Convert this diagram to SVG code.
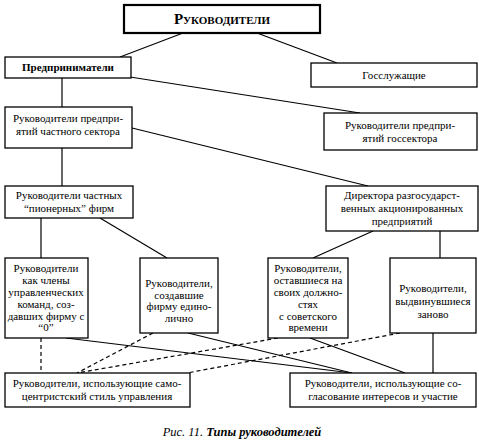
<svg xmlns="http://www.w3.org/2000/svg" width="479" height="442" viewBox="0 0 479 442">
<style>
.box{fill:#fff;stroke:#000;stroke-width:1.3}
.t{font-family:"Liberation Serif","Times New Roman",serif;font-size:11px;fill:#000;text-anchor:middle}
.b{font-weight:bold}
.ln{stroke:#000;stroke-width:1.2;fill:none}
.ds{stroke:#000;stroke-width:1.2;fill:none;stroke-dasharray:4,3}
</style>
<rect width="479" height="442" fill="#fff"/>
<g id="connectors">
<line class="ln" x1="183" y1="33" x2="120" y2="57"/>
<line class="ln" x1="257" y1="33" x2="337" y2="63"/>
<line class="ln" x1="62" y1="78" x2="62" y2="107"/>
<line class="ln" x1="130" y1="77" x2="360" y2="113"/>
<line class="ln" x1="132" y1="128" x2="368" y2="186"/>
<line class="ln" x1="62" y1="148" x2="62" y2="186"/>
<line class="ln" x1="41" y1="218" x2="41" y2="258"/>
<line class="ln" x1="100" y1="218" x2="167" y2="258"/>
<line class="ln" x1="373" y1="231" x2="313" y2="258"/>
<line class="ln" x1="440" y1="231" x2="440" y2="258"/>
<line class="ds" x1="41" y1="338" x2="41" y2="373"/>
<line class="ds" x1="153" y1="333" x2="77" y2="373"/>
<line class="ds" x1="278" y1="338" x2="77" y2="373"/>
<line class="ds" x1="400" y1="333" x2="187" y2="373"/>
<line class="ln" x1="66" y1="338" x2="352" y2="373"/>
<line class="ln" x1="188" y1="333" x2="352" y2="373"/>
<line class="ln" x1="310" y1="338" x2="405" y2="373"/>
<line class="ln" x1="433" y1="333" x2="433" y2="373"/>
</g>
<g id="n-top"><rect x="124" y="5" width="196" height="28" fill="#fff" stroke="#000" stroke-width="2.2"/><text class="t b" x="222" y="24" style="font-variant:small-caps;font-size:15px">Руководители</text></g>
<g id="n-entre"><rect class="box" x="5" y="57" width="126" height="21"/><text class="t b" x="68" y="71">Предприниматели</text></g>
<g id="n-gos"><rect class="box" x="311" y="63" width="166" height="24"/><text class="t" x="394" y="79">Госслужащие</text></g>
<g id="n-private"><rect class="box" x="5" y="107" width="127" height="41"/><text class="t" x="68" y="122">Руководители предпри-</text><text class="t" x="68" y="135">ятий частного сектора</text></g>
<g id="n-state"><rect class="box" x="324" y="113" width="153" height="37"/><text class="t" x="400" y="129">Руководители предпри-</text><text class="t" x="400" y="142">ятий госсектора</text></g>
<g id="n-pioneer"><rect class="box" x="5" y="186" width="128" height="32"/><text class="t" x="69" y="199">Руководители частных</text><text class="t" x="69" y="212">“пионерных” фирм</text></g>
<g id="n-directors"><rect class="box" x="326" y="186" width="152" height="45"/><text class="t" x="402" y="199">Директора разгосударст-</text><text class="t" x="402" y="212">венных  акционированных</text><text class="t" x="402" y="225">предприятий</text></g>
<g id="n-team"><rect class="box" x="5" y="258" width="83" height="80"/><text class="t" x="46" y="272">Руководители</text><text class="t" x="46" y="284">как члены</text><text class="t" x="46" y="296">управленческих</text><text class="t" x="46" y="308">команд, соз-</text><text class="t" x="46" y="320">давших фирму с</text><text class="t" x="46" y="331">“0”</text></g>
<g id="n-sole"><rect class="box" x="140" y="258" width="78" height="75"/><text class="t" x="179" y="287">Руководители,</text><text class="t" x="179" y="298.5">создавшие</text><text class="t" x="179" y="310">фирму едино-</text><text class="t" x="179" y="321.5">лично</text></g>
<g id="n-soviet"><rect class="box" x="268" y="258" width="80" height="80"/><text class="t" x="308" y="272">Руководители,</text><text class="t" x="308" y="284">оставшиеся на</text><text class="t" x="308" y="296">своих должно-</text><text class="t" x="308" y="308">стях</text><text class="t" x="308" y="320">с советского</text><text class="t" x="308" y="331">времени</text></g>
<g id="n-new"><rect class="box" x="390" y="258" width="86" height="75"/><text class="t" x="433" y="292">Руководители,</text><text class="t" x="433" y="305">выдвинувшиеся</text><text class="t" x="433" y="318">заново</text></g>
<g id="n-auto"><rect class="box" x="5" y="373" width="185" height="34"/><text class="t" x="97" y="387">Руководители, использующие само-</text><text class="t" x="97" y="400">центристский стиль управления</text></g>
<g id="n-consensus"><rect class="box" x="290" y="373" width="186" height="34"/><text class="t" x="383" y="387">Руководители, использующие со-</text><text class="t" x="383" y="400">гласование интересов и участие</text></g>
<text class="t" x="242" y="436" style="font-style:italic;font-size:12.5px">Рис. 11. <tspan font-weight="bold">Типы руководителей</tspan></text>
</svg>
